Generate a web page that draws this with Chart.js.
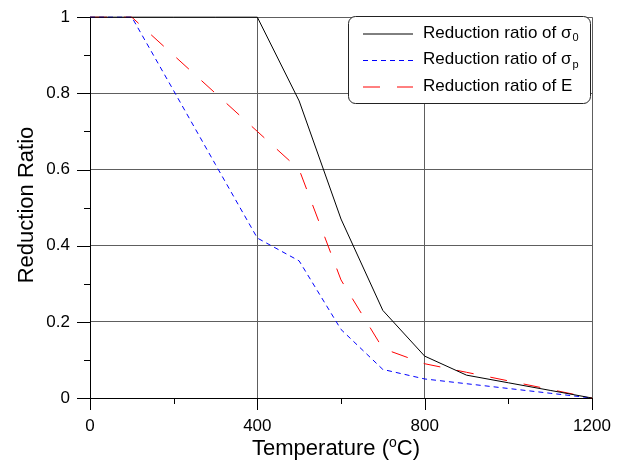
<!DOCTYPE html>
<html>
<head>
<meta charset="utf-8">
<script src="https://cdn.jsdelivr.net/npm/chart.js@4.4.0/dist/chart.umd.min.js"></script>
<style>
  html, body { margin: 0; padding: 0; background: #fff; }
  #wrap { width: 628px; height: 462px; }
</style>
</head>
<body>
<div id="wrap"><canvas id="chart" width="628" height="462"></canvas></div>
<script>
// data
const temperatures = [0, 100, 200, 300, 400, 500, 600, 700, 800, 900, 1000, 1100, 1200];
const ratioYield = [1, 1, 1, 1, 1, 0.78, 0.47, 0.23, 0.11, 0.06, 0.04, 0.02, 0];
const ratioProportional = [1, 1, 0.807, 0.613, 0.42, 0.36, 0.18, 0.075, 0.05, 0.0375, 0.025, 0.0125, 0];
const ratioModulus = [1, 1, 0.9, 0.8, 0.7, 0.6, 0.31, 0.13, 0.09, 0.0675, 0.045, 0.0225, 0];
const xMajorStep = 400;
const yMajorStep = 0.2;
const seriesLabels = ["Reduction ratio of σ", "Reduction ratio of σ", "Reduction ratio of E"];
const seriesSubs = ["0", "p", ""];

const FONT = "'Liberation Sans', Arial, sans-serif";
const GRID = "#5e5e5e";

function toPoints(values) {
  return temperatures.map((t, i) => ({ x: t, y: values[i] }));
}

function isMajorX(v) { return Math.round(v) % xMajorStep === 0; }
function isMajorY(v) { return Math.round(v * 10) % Math.round(yMajorStep * 10) === 0; }

// legend, axis titles and tick marks
const decorations = {
  id: "decorations",
  afterDraw(chart) {
    const ctx = chart.ctx;
    const xs = chart.scales.x;
    const ys = chart.scales.y;
    const area = chart.chartArea;
    ctx.save();

    // tick marks (major long, minor short)
    ctx.strokeStyle = "#000";
    ctx.lineWidth = 1;
    ctx.beginPath();
    xs.ticks.forEach((t) => {
      const px = Math.round(xs.getPixelForValue(t.value)) + 0.5;
      const len = isMajorX(t.value) ? 12 : 6;
      ctx.moveTo(px, area.bottom);
      ctx.lineTo(px, area.bottom + len);
    });
    ys.ticks.forEach((t) => {
      const py = Math.round(ys.getPixelForValue(t.value)) + 0.5;
      const len = isMajorY(t.value) ? 13 : 6;
      ctx.moveTo(area.left, py);
      ctx.lineTo(area.left - len, py);
    });
    ctx.stroke();

    // legend box
    const bx = 348.5, by = 16.5, bw = 242, bh = 87;
    ctx.beginPath();
    ctx.roundRect(bx, by, bw, bh, 7);
    ctx.fillStyle = "#fff";
    ctx.fill();
    ctx.strokeStyle = "#222";
    ctx.lineWidth = 1;
    ctx.stroke();

    chart.data.datasets.forEach((ds, i) => {
      const y = 34 + i * 26.5;
      ctx.beginPath();
      ctx.setLineDash(ds.borderDash || []);
      ctx.strokeStyle = ds.borderColor;
      ctx.lineWidth = 1;
      ctx.moveTo(363, y);
      ctx.lineTo(413, y);
      ctx.stroke();
      ctx.setLineDash([]);

      ctx.fillStyle = "#000";
      ctx.font = "17px " + FONT;
      ctx.textAlign = "left";
      ctx.textBaseline = "middle";
      ctx.fillText(seriesLabels[i], 423, y - 1);
      if (seriesSubs[i]) {
        const w = ctx.measureText(seriesLabels[i]).width;
        ctx.font = "11px " + FONT;
        ctx.fillText(seriesSubs[i], 423 + w + 1, y + 4);
      }
    });

    // x axis title with superscript o
    ctx.fillStyle = "#000";
    ctx.textBaseline = "alphabetic";
    ctx.textAlign = "left";
    const big = "22px " + FONT;
    const small = "14px " + FONT;
    ctx.font = big;
    const p1 = "Temperature (";
    const p3 = "C)";
    const w1 = ctx.measureText(p1).width;
    const w3 = ctx.measureText(p3).width;
    ctx.font = small;
    const w2 = ctx.measureText("o").width;
    let x0 = 336 - (w1 + w2 + w3) / 2;
    const base = 455;
    ctx.font = big;
    ctx.fillText(p1, x0, base);
    ctx.font = small;
    ctx.fillText("o", x0 + w1, base - 8);
    ctx.font = big;
    ctx.fillText(p3, x0 + w1 + w2, base);

    // y axis title
    ctx.translate(33, 205);
    ctx.rotate(-Math.PI / 2);
    ctx.font = big;
    ctx.textAlign = "center";
    ctx.textBaseline = "alphabetic";
    ctx.fillText("Reduction Ratio", 0, 0);

    ctx.restore();
  }
};

const chart = new Chart(document.getElementById("chart"), {
  type: "line",
  data: {
    datasets: [
      {
        label: "Reduction ratio of σ0",
        data: toPoints(ratioYield),
        borderColor: "#000000",
        borderWidth: 1,
        pointRadius: 0,
        tension: 0,
        fill: false,
        clip: 4
      },
      {
        label: "Reduction ratio of σp",
        data: toPoints(ratioProportional),
        borderColor: "#0000ff",
        borderWidth: 1,
        borderDash: [5, 4],
        pointRadius: 0,
        tension: 0,
        fill: false,
        clip: 4
      },
      {
        label: "Reduction ratio of E",
        data: toPoints(ratioModulus),
        borderColor: "#ff0000",
        borderWidth: 1,
        borderDash: [17, 17],
        pointRadius: 0,
        tension: 0,
        fill: false,
        clip: 4
      }
    ]
  },
  options: {
    responsive: false,
    animation: false,
    layout: { padding: { top: 15, right: 36, left: 0, bottom: 0 } },
    plugins: {
      legend: { display: false },
      tooltip: { enabled: false }
    },
    scales: {
      x: {
        type: "linear",
        min: 0,
        max: 1200,
        afterFit: (scale) => { scale.height = 64; },
        ticks: {
          stepSize: 200,
          maxRotation: 0,
          autoSkip: false,
          padding: 6,
          color: "#000",
          font: { family: FONT, size: 17 },
          callback: (v) => (isMajorX(v) ? String(v) : "")
        },
        grid: {
          color: (c) => (c.tick && isMajorX(c.tick.value) ? GRID : "rgba(0,0,0,0)"),
          lineWidth: 1,
          tickLength: 12,
          tickColor: "rgba(0,0,0,0)"
        },
        border: { color: "#000", width: 1 }
      },
      y: {
        min: 0,
        max: 1,
        afterFit: (scale) => { scale.width = 90; },
        ticks: {
          stepSize: 0.1,
          autoSkip: false,
          padding: 7,
          color: "#000",
          font: { family: FONT, size: 17 },
          callback: (v) => (isMajorY(v) ? String(Math.round(v * 10) / 10) : "")
        },
        grid: {
          color: (c) => (c.tick && isMajorY(c.tick.value) ? GRID : "rgba(0,0,0,0)"),
          lineWidth: 1,
          tickLength: 13,
          tickColor: "rgba(0,0,0,0)"
        },
        border: { color: "#000", width: 1 }
      }
    }
  },
  plugins: [decorations]
});
</script>
</body>
</html>
